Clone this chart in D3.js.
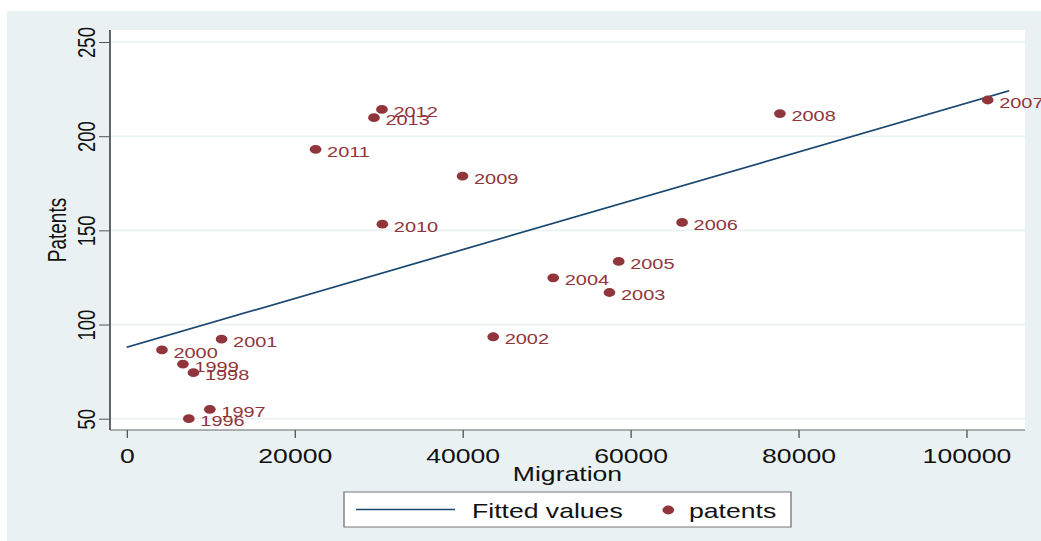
<!DOCTYPE html>
<html>
<head>
<meta charset="utf-8">
<script src="https://cdn.jsdelivr.net/npm/d3@7/dist/d3.min.js"></script>
<style>
  html, body { margin: 0; padding: 0; background: #ffffff; }
  svg { display: block; }
  text { font-family: "Liberation Sans", Arial, Helvetica, sans-serif; }
</style>
</head>
<body>
<svg id="chart"></svg>
<script>
// Observations: year, migration flow and patent count
const years = ["1996", "1997", "1998", "1999", "2000", "2001", "2002", "2003", "2004",
               "2005", "2006", "2007", "2008", "2009", "2010", "2011", "2012", "2013"];
const migration = [7400, 9900, 7950, 6700, 4200, 11300, 43650, 57500, 50800,
                   58600, 66150, 102550, 77800, 40000, 30450, 22500, 30400, 29450];
const patents = [50, 55, 74.5, 79, 86.5, 92.3, 93.5, 117, 124.8,
                 133.5, 154.2, 219.2, 212, 178.8, 153.3, 193, 214.2, 209.8];

// Linear fit (Fitted values) endpoints
const fitX = [0, 105100];
const fitY = [87.9, 224.1];

const xTicks = [0, 20000, 40000, 60000, 80000, 100000];
const yTicks = [50, 100, 150, 200, 250];

const legendLabels = ["Fitted values", "patents"];

// The drawing is laid out in a narrower coordinate space and stretched horizontally
const PX_W = 1041, PX_H = 541, SX = 1.33;
const W = PX_W / SX;
const px = v => v / SX;

const svg = d3.select("#chart")
  .attr("width", PX_W).attr("height", PX_H)
  .attr("viewBox", `0 0 ${W} ${PX_H}`)
  .attr("preserveAspectRatio", "none");

const bg = "#eaf1f3";
const maroon = "#90353b";
const navy = "#1a476f";

// Graph region
svg.append("rect").attr("x", px(7)).attr("y", 11)
  .attr("width", W - px(7)).attr("height", PX_H - 11).attr("fill", bg);

// Plot region
const plot = { left: px(110), right: px(1025), top: 30, bottom: 430 };
svg.append("rect").attr("x", plot.left).attr("y", plot.top)
  .attr("width", plot.right - plot.left).attr("height", plot.bottom - plot.top)
  .attr("fill", "#ffffff");

const x = d3.scaleLinear().domain([0, 100000]).range([px(126.7), px(966.3)]);
const y = d3.scaleLinear().domain([50, 250]).range([418.7, 42]);

// Horizontal grid lines
svg.append("g").selectAll("line").data(yTicks).join("line")
  .attr("x1", plot.left).attr("x2", plot.right)
  .attr("y1", d => y(d)).attr("y2", d => y(d))
  .attr("stroke", bg).attr("stroke-width", 1.6);

// Y axis
const yAxis = svg.append("g").attr("transform", `translate(${plot.left},0)`)
  .call(d3.axisLeft(y).tickValues(yTicks).tickSize(px(11)).tickPadding(0).tickFormat(d3.format("d")));
yAxis.select(".domain").attr("d", `M0,${plot.top}V${plot.bottom}`).attr("stroke", "#1a1a1a").attr("stroke-width", 1);
yAxis.selectAll(".tick line").attr("stroke", "#555").attr("stroke-width", 1);
yAxis.selectAll(".tick text")
  .attr("x", null).attr("dy", null)
  .attr("text-anchor", "middle")
  .attr("transform", `translate(${px(95) - plot.left},0) rotate(-90)`)
  .attr("font-size", 18.5).attr("fill", "#111");

// X axis
const xAxis = svg.append("g").attr("transform", `translate(0,${plot.bottom})`)
  .call(d3.axisBottom(x).tickValues(xTicks).tickSize(8).tickPadding(0).tickFormat(d3.format("d")));
xAxis.select(".domain").attr("d", `M${plot.left},0H${plot.right}`).attr("stroke", "#666").attr("stroke-width", 1.2);
xAxis.selectAll(".tick line").attr("stroke", "#555").attr("stroke-width", 1);
xAxis.selectAll(".tick text")
  .attr("y", 463 - plot.bottom).attr("dy", null)
  .attr("font-size", 20).attr("fill", "#111");

// Axis titles
svg.append("text").attr("x", (plot.left + plot.right) / 2).attr("y", 481)
  .attr("text-anchor", "middle").attr("font-size", 20).attr("fill", "#111")
  .text("Migration");
svg.append("text")
  .attr("transform", `translate(${px(66)},${(plot.top + plot.bottom) / 2}) rotate(-90)`)
  .attr("text-anchor", "middle").attr("font-size", 19).attr("fill", "#111")
  .text("Patents");

// Fitted line
const fitPts = fitX.map((d, i) => [x(d), y(fitY[i])]);
svg.append("path").attr("d", d3.line()(fitPts))
  .attr("fill", "none").attr("stroke", navy).attr("stroke-width", px(2.2));

// Scatter points with year labels
const pts = years.map((yr, i) => ({ yr, mx: migration[i], pt: patents[i] }));
const g = svg.append("g");
g.selectAll("ellipse").data(pts).join("ellipse")
  .attr("cx", d => x(d.mx)).attr("cy", d => y(d.pt))
  .attr("rx", 4.4).attr("ry", 4.4)
  .attr("fill", maroon);
g.selectAll("text").data(pts).join("text")
  .attr("x", d => x(d.mx) + px(11.5)).attr("y", d => y(d.pt) + 7.6)
  .attr("font-size", 15).attr("fill", maroon)
  .text(d => d.yr);

// Legend
const lg = svg.append("g");
lg.append("rect").attr("x", px(344)).attr("y", 492)
  .attr("width", px(791) - px(344)).attr("height", 35)
  .attr("fill", "#ffffff").attr("stroke", "#777").attr("stroke-width", 1);
lg.append("line").attr("x1", px(356)).attr("x2", px(455)).attr("y1", 509.5).attr("y2", 509.5)
  .attr("stroke", navy).attr("stroke-width", px(2.2));
lg.append("text").attr("x", px(472)).attr("y", 518)
  .attr("font-size", 20).attr("fill", "#111").text(legendLabels[0]);
lg.append("ellipse").attr("cx", px(668.3)).attr("cy", 510).attr("rx", 4.4).attr("ry", 4.4)
  .attr("fill", maroon);
lg.append("text").attr("x", px(689)).attr("y", 518)
  .attr("font-size", 20).attr("fill", "#111").text(legendLabels[1]);
</script>
</body>
</html>
